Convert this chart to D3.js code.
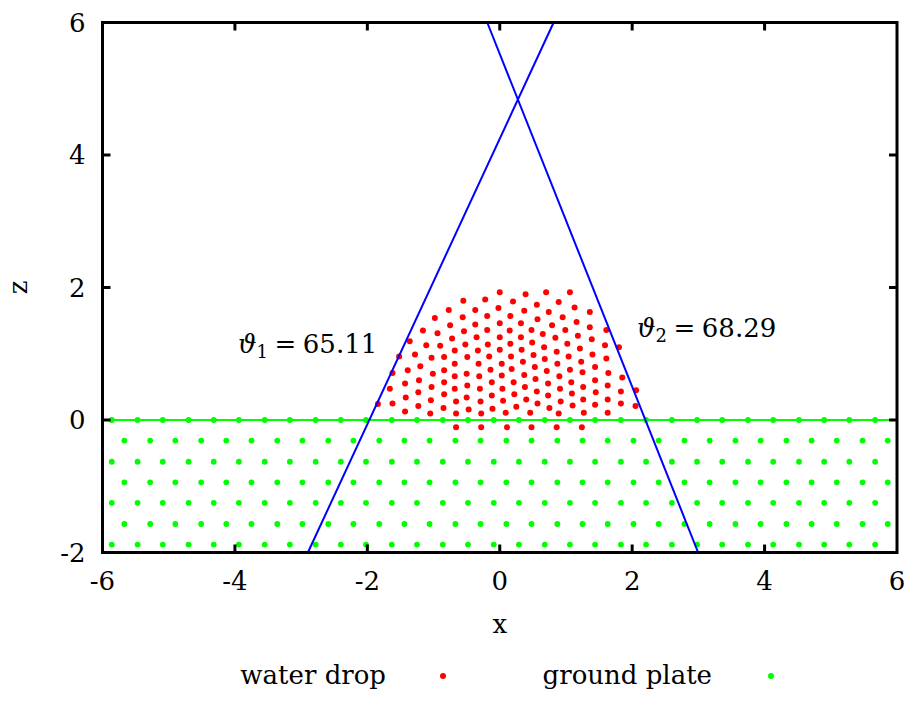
<!DOCTYPE html>
<html>
<head>
<meta charset="utf-8">
<script src="https://cdn.jsdelivr.net/npm/d3@7"></script>
<style>
  body { margin: 0; background: #fff; }
  text { font-family: "DejaVu Serif", serif; fill: #000; }
</style>
</head>
<body>
<svg id="chart" width="910" height="718"></svg>
<script>
// Axis ticks
const xTicks = [-6, -4, -2, 0, 2, 4, 6];
const zTicks = [-2, 0, 2, 4, 6];

// Contact angles (degrees) and where each tangent meets the plate surface
const contactAngles = [65.11, 68.29];
const contactX = [-1.97, 2.20];

// Water molecules of the drop: [x, z]
const dropPoints = [
  [-0.55,1.80],[-0.22,1.82],[-0.77,1.66],[-0.37,1.66],[-0.98,1.54],[-0.56,1.55],[-0.19,1.57],
  [-1.16,1.35],[-0.94,1.31],[-0.75,1.43],[-0.37,1.44],[-0.54,1.34],[-0.19,1.36],
  [-1.36,1.19],[-1.11,1.13],[-0.90,1.12],[-0.72,1.23],[-0.52,1.14],[-0.35,1.25],[-0.18,1.14],
  [-1.52,0.96],[-1.28,0.99],[-1.03,0.94],[-0.84,0.95],[-0.68,1.05],[-0.49,0.95],[-0.33,1.05],[-0.16,0.96],
  [-0.68,0.85],[-0.32,0.85],[-0.14,0.76],[-1.39,0.75],[-1.20,0.81],[-1.01,0.70],[-0.84,0.75],
  [-0.68,0.66],[-0.50,0.70],[-0.31,0.66],[-1.62,0.71],[-1.43,0.55],[-1.22,0.60],[-1.03,0.50],
  [-0.84,0.57],[-0.68,0.47],[-0.49,0.52],[-0.30,0.47],[-0.12,0.57],[-1.66,0.47],[-1.42,0.34],
  [-1.23,0.42],[-1.04,0.30],[-0.84,0.39],[-0.66,0.28],[-0.50,0.34],[-0.29,0.28],[-0.12,0.37],
  [-1.84,0.24],[-1.62,0.25],[-1.43,0.13],[-1.23,0.21],[-1.05,0.10],[-0.85,0.18],[-0.66,0.10],
  [-0.47,0.16],[-0.28,0.10],[-0.11,0.17],[-0.66,-0.11],[-0.28,-0.11],
  [0.00,1.93],[-0.02,1.69],[0.00,1.46],[0.00,1.25],[0.00,1.06],[0.03,0.85],[0.03,0.67],
  [0.04,0.47],[0.05,0.29],[0.09,0.11],[0.11,-0.11],
  [0.39,1.90],[0.70,1.93],[1.06,1.93],[0.20,1.79],[0.56,1.74],[0.89,1.78],[0.37,1.65],
  [0.74,1.63],[1.13,1.70],[1.36,1.63],[0.16,1.57],[0.57,1.52],[0.95,1.55],[0.32,1.46],
  [0.79,1.43],[1.16,1.48],[1.36,1.40],[1.61,1.36],[0.15,1.35],[0.48,1.36],[0.65,1.30],
  [0.99,1.36],[0.32,1.25],[0.84,1.24],[1.18,1.27],[1.39,1.22],[1.59,1.13],[1.80,1.10],
  [0.16,1.15],[0.49,1.17],[0.67,1.10],[1.02,1.15],[0.33,1.06],[0.86,1.03],[1.21,1.08],
  [1.40,0.99],[0.17,0.96],[0.51,0.98],[0.68,0.92],[1.04,0.96],[1.61,0.93],
  [0.35,0.88],[0.53,0.80],[0.87,0.85],[1.23,0.88],[0.18,0.77],[0.37,0.68],[0.71,0.74],
  [0.90,0.66],[1.06,0.76],[1.25,0.72],[1.44,0.80],[1.64,0.71],[1.85,0.64],[0.21,0.57],
  [0.54,0.62],[0.73,0.55],[1.08,0.57],[1.44,0.60],[0.38,0.50],[0.56,0.43],[0.91,0.47],
  [1.26,0.50],[1.63,0.52],[1.83,0.43],[2.06,0.45],[0.22,0.39],[0.73,0.37],[1.09,0.40],
  [1.45,0.42],[0.40,0.31],[0.57,0.25],[0.92,0.28],[1.26,0.31],[1.63,0.31],[1.83,0.25],
  [0.25,0.20],[0.75,0.18],[1.10,0.22],[1.44,0.23],[2.05,0.21],[0.46,0.11],[0.89,0.10],
  [1.27,0.11],[1.63,0.11],[0.48,-0.11],[0.86,-0.11],[1.24,-0.11]
];

// Ground plate atoms: row heights and the x positions of the two alternating rows
const groundRowZ = [0.00, -0.31, -0.63, -0.94, -1.25, -1.57, -1.88];
const groundEvenX = [-5.86,-5.47,-5.09,-4.70,-4.32,-3.94,-3.55,-3.17,-2.78,-2.40,-2.02,-1.63,
  -1.25,-0.86,-0.48,-0.09,0.29,0.68,1.06,1.44,1.83,2.21,2.60,2.98,3.36,3.75,4.13,4.52,4.90,5.28,5.67];
const groundOddX = [-5.67,-5.28,-4.90,-4.51,-4.13,-3.75,-3.36,-2.98,-2.59,-2.21,-1.82,-1.44,
  -1.06,-0.67,-0.29,0.10,0.48,0.87,1.25,1.63,2.02,2.40,2.79,3.17,3.56,3.94,4.33,4.71,5.09,5.48,5.86];

const legendItems = [
  { label: "water drop", color: "#ff0000" },
  { label: "ground plate", color: "#00ff00" }
];

const svg = d3.select("#chart");
const L = 102.5, R = 897, T = 22.5, B = 552.5;
const x = d3.scaleLinear().domain([-6, 6]).range([L, R]);
const z = d3.scaleLinear().domain([-2, 6]).range([B, T]);
const fontSize = 26;

svg.append("defs").append("clipPath").attr("id", "plotClip")
  .append("rect").attr("x", L).attr("y", T).attr("width", R - L).attr("height", B - T);

const plot = svg.append("g").attr("clip-path", "url(#plotClip)");

// Plate surface line
plot.append("line")
  .attr("x1", x(-6)).attr("x2", x(6)).attr("y1", z(0)).attr("y2", z(0))
  .attr("stroke", "#00ff00").attr("stroke-width", 2);

// Ground plate atoms
const groundPoints = [];
groundRowZ.forEach((zz, i) => {
  (i % 2 === 0 ? groundEvenX : groundOddX).forEach(xx => groundPoints.push([xx, zz]));
});
plot.append("g").selectAll("circle").data(groundPoints).join("circle")
  .attr("cx", d => x(d[0])).attr("cy", d => z(d[1])).attr("r", 2.9)
  .attr("fill", "#00ff00");

// Drop molecules
plot.append("g").selectAll("circle").data(dropPoints).join("circle")
  .attr("cx", d => x(d[0])).attr("cy", d => z(d[1])).attr("r", 3)
  .attr("fill", "#ff0000");

// Tangent lines at the contact points
const tangents = contactAngles.map((a, i) => {
  const slope = Math.tan(a * Math.PI / 180) * (i === 0 ? 1 : -1);
  return [[contactX[i] + (-2) / slope, -2], [contactX[i] + 6 / slope, 6]];
});
plot.append("g").selectAll("line").data(tangents).join("line")
  .attr("x1", d => x(d[0][0])).attr("y1", d => z(d[0][1]))
  .attr("x2", d => x(d[1][0])).attr("y2", d => z(d[1][1]))
  .attr("stroke", "#0000ff").attr("stroke-width", 2);

// Frame and ticks (mirrored on all four sides)
const axes = svg.append("g").attr("stroke", "#000").attr("stroke-width", 3);
const tl = 8;
xTicks.slice(1, -1).forEach(t => {
  axes.append("line").attr("x1", x(t)).attr("x2", x(t)).attr("y1", B).attr("y2", B - tl);
  axes.append("line").attr("x1", x(t)).attr("x2", x(t)).attr("y1", T).attr("y2", T + tl);
});
zTicks.slice(1, -1).forEach(t => {
  axes.append("line").attr("x1", L).attr("x2", L + tl).attr("y1", z(t)).attr("y2", z(t));
  axes.append("line").attr("x1", R).attr("x2", R - tl).attr("y1", z(t)).attr("y2", z(t));
});
axes.append("rect").attr("x", L).attr("y", T).attr("width", R - L).attr("height", B - T)
  .attr("fill", "none");

// Tick labels
svg.append("g").selectAll("text").data(xTicks).join("text")
  .attr("x", d => x(d)).attr("y", B + 37).attr("text-anchor", "middle")
  .attr("font-size", fontSize).text(d => d);
svg.append("g").selectAll("text").data(zTicks).join("text")
  .attr("x", L - 17).attr("y", d => z(d) + 9).attr("text-anchor", "end")
  .attr("font-size", fontSize).text(d => d);

// Axis titles
svg.append("text").attr("x", (L + R) / 2).attr("y", 633).attr("text-anchor", "middle")
  .attr("font-size", fontSize).text("x");
svg.append("text").attr("transform", `translate(27,${(T + B) / 2}) rotate(-90)`)
  .attr("text-anchor", "middle").attr("font-size", fontSize).text("z");

// Contact angle annotations
const annoPos = [[238, 353], [637, 337]];
contactAngles.forEach((a, i) => {
  const t = svg.append("text").attr("x", annoPos[i][0]).attr("y", annoPos[i][1])
    .attr("font-size", fontSize);
  t.append("tspan").attr("font-style", "italic").text("ϑ");
  t.append("tspan").attr("font-size", 18).attr("dy", 5).text(i + 1);
  t.append("tspan").attr("dy", -5).text("\u2005=\u2005" + a.toFixed(2));
});

// Legend
const legendY = 684;
const legendTextX = [386, 712];
const legendDotX = [443, 771];
legendItems.forEach((d, i) => {
  svg.append("text").attr("x", legendTextX[i]).attr("y", legendY).attr("text-anchor", "end")
    .attr("font-size", fontSize).text(d.label);
  svg.append("circle").attr("cx", legendDotX[i]).attr("cy", legendY - 8).attr("r", 3)
    .attr("fill", d.color);
});
</script>
</body>
</html>
